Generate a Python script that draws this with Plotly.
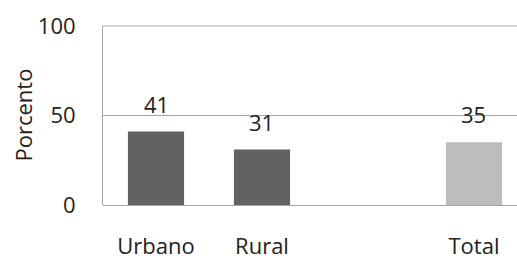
import plotly.graph_objects as go

categories = ["Urbano", "Rural", "", "Total"]
values = [41, 31, None, 35]
colors = ["#626262", "#626262", "#ffffff", "#bdbdbd"]
yticks = [0, 50, 100]
y_title = "Porcento"

xs = list(range(len(categories)))
fig = go.Figure()
fig.add_trace(go.Bar(
    x=xs, y=values, width=0.53,
    marker=dict(color=colors, line=dict(width=0)),
    showlegend=False, hoverinfo="skip",
))
for x, v in zip(xs, values):
    if v is not None:
        fig.add_annotation(x=x, y=v, text=str(v), showarrow=False,
                           yanchor="bottom", yshift=11,
                           font=dict(size=22, color="#222222", family="Open Sans"))
# top gridline (plotly omits it at the range edge); paper y=1 is the top of the 0-100 range
fig.add_shape(type="line", xref="paper", x0=0, x1=1, yref="paper",
              y0=1, y1=1, line=dict(color="#a6a6a6", width=1), layer="above")
# y-axis title
fig.add_annotation(xref="paper", yref="paper", x=0, y=0.5, xanchor="center", yanchor="middle",
                   xshift=-81, text=y_title, textangle=-90, showarrow=False,
                   font=dict(size=22, color="#222222", family="Open Sans"))

fig.update_layout(
    width=517, height=258,
    margin=dict(l=103, r=0, t=26, b=53, autoexpand=False),
    paper_bgcolor="white", plot_bgcolor="white",
    font=dict(family="Open Sans", size=22, color="#222222"),
    bargap=0.47,
)
fig.update_xaxes(
    range=[-0.5, 3.406], tickvals=xs, ticktext=categories,
    showgrid=False, zeroline=False, showline=False, ticks="",
    ticklabelstandoff=26, automargin=False,
)
fig.update_yaxes(
    range=[0, yticks[-1]], tickvals=yticks, showgrid=True, gridcolor="#a6a6a6", gridwidth=1,
    zeroline=True, zerolinecolor="#a6a6a6", zerolinewidth=1,
    showline=True, linecolor="#a6a6a6", linewidth=1, ticks="",
    ticklabelstandoff=22, automargin=False,
)
fig.write_html("out.html", config={"displayModeBar": False},
               post_script="document.body.style.margin='0';document.body.style.overflow='hidden';")
